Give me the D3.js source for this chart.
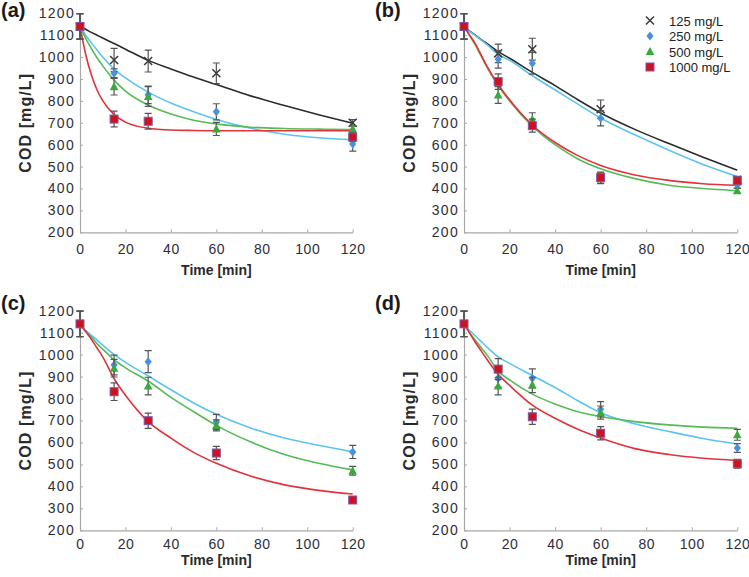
<!DOCTYPE html>
<html><head><meta charset="utf-8">
<script src="https://cdn.jsdelivr.net/npm/d3@7"></script>
<style>
body{margin:0;background:#fff}
text{font-family:Arial,"Liberation Sans",sans-serif}
</style>
</head><body>
<svg id="chart" width="749" height="577"></svg>
<script>
// ---------------- DATA ----------------
const seriesNames = ["125 mg/L", "250 mg/L", "500 mg/L", "1000 mg/L"];
const panelLabels = ["(a)", "(b)", "(c)", "(d)"];
const times = [0, 15, 30, 60, 120];
const xTicks = [0, 20, 40, 60, 80, 100, 120];
const yTicks = [200, 300, 400, 500, 600, 700, 800, 900, 1000, 1100, 1200];
const xTitle = "Time [min]";
const yTitle = "COD [mg/L]";

// measured points (null = not shown)
const a125 = [1140, 987, 982, 926, 700];   const a125Err = [58, 53, 50, 47, 15];
const a250 = [1140, 926, 828, 750, 603];   const a250Err = [58, 20, 40, 37, 32];
const a500 = [1140, 865, 820, 672, 672];   const a500Err = [58, 38, 45, 30, 15];
const a1000 = [1140, 717, 707, null, 635]; const a1000Err = [58, 36, 36, 0, 20];

const b125 = [1140, 1017, 1036, 762, 440]; const b125Err = [58, 42, 50, 42, 15];
const b250 = [1140, 990, 972, 721, 416];   const b250Err = [58, 40, 50, 35, 15];
const b500 = [1140, 827, 716, 447, 390];   const b500Err = [58, 38, 30, 25, 12];
const b1000 = [1140, 888, 687, 450, 435];  const b1000Err = [58, 35, 30, 25, 15];

const c250 = [1140, 953, 968, 693, 557];   const c250Err = [58, 45, 50, 35, 30];
const c500 = [1140, 938, 857, 678, 471];   const c500Err = [58, 40, 40, 25, 20];
const c1000 = [1140, 831, 699, 552, 338];  const c1000Err = [58, 40, 35, 30, 15];

const d250 = [1140, 892, 892, 751, 575];   const d250Err = [58, 40, 43, 35, 20];
const d500 = [1140, 857, 862, 736, 635];   const d500Err = [58, 40, 35, 30, 25];
const d1000 = [1140, 934, 717, 642, 503];  const d1000Err = [58, 48, 35, 30, 20];

// fitted curves at these times
const fitT = [0, 2.5, 5, 7.5, 10, 15, 20, 30, 40, 50, 60, 75, 90, 105, 120];
const a125Fit = [1140, 1127, 1113, 1100, 1087, 1062, 1036, 985, 946, 909, 875, 823, 779, 737, 698];
const a250Fit = [1140, 1100, 1065, 1032, 1000, 945, 905, 840, 790, 750, 715, 675, 648, 632, 623];
const a500Fit = [1140, 1085, 1039, 997, 960, 895, 845, 781, 740, 712, 695, 680, 674, 671, 669];
const a1000Fit = [1140, 1012, 919, 850, 801, 737, 703, 675, 667, 665, 664, 664, 664, 664, 664];

const b125Fit = [1138, 1118, 1100, 1080, 1062, 1025, 995, 930, 870, 805, 745, 670, 605, 543, 484];
const b250Fit = [1135, 1117, 1098, 1078, 1058, 1012, 985, 915, 850, 785, 722, 645, 575, 510, 455];
const b500Fit = [1140, 1098, 1055, 1005, 955, 870, 800, 685, 600, 535, 490, 445, 415, 400, 390];
const b1000Fit = [1140, 1100, 1060, 1010, 960, 875, 805, 690, 610, 550, 505, 462, 437, 422, 415];

const c250Fit = [1135, 1110, 1088, 1066, 1043, 1000, 965, 903, 840, 780, 728, 666, 620, 587, 557];
const c500Fit = [1135, 1105, 1080, 1050, 1025, 976, 940, 880, 805, 740, 678, 603, 545, 505, 475];
const c1000Fit = [1140, 1105, 1070, 1030, 990, 890, 815, 695, 620, 555, 505, 447, 407, 382, 365];

const d250Fit = [1135, 1110, 1085, 1060, 1035, 990, 960, 905, 850, 790, 735, 685, 650, 618, 593];
const d500Fit = [1140, 1100, 1065, 1032, 1000, 925, 885, 820, 775, 740, 718, 695, 680, 670, 665];
const d1000Fit = [1140, 1097, 1055, 1017, 980, 910, 860, 770, 710, 660, 620, 572, 545, 528, 518];

// ---------------- STYLE / LAYOUT ----------------
const styles = [
  {marker: "x", fill: "none", stroke: "#3a3a3a", line: "#2b2b2b"},
  {marker: "diamond", fill: "#4a8fe0", stroke: "#4a8fe0", line: "#5cc4ef"},
  {marker: "triangle", fill: "#3aa83a", stroke: "#3aa83a", line: "#55bb55"},
  {marker: "square", fill: "#d0121e", stroke: "#7a5aa8", line: "#e2323a"}
];

const panels = [
  {label: panelLabels[0], ox: 0, oy: 0, x0: 80, x1: 352.7, yTop: 13.3, yBot: 232.3, legend: false,
   series: [[0, a125, a125Err, a125Fit], [1, a250, a250Err, a250Fit], [2, a500, a500Err, a500Fit], [3, a1000, a1000Err, a1000Fit]]},
  {label: panelLabels[1], ox: 374, oy: 0, x0: 464, x1: 737.3, yTop: 13.3, yBot: 232.3, legend: true,
   series: [[0, b125, b125Err, b125Fit], [1, b250, b250Err, b250Fit], [2, b500, b500Err, b500Fit], [3, b1000, b1000Err, b1000Fit]]},
  {label: panelLabels[2], ox: 0, oy: 288, x0: 80, x1: 352.7, yTop: 310.7, yBot: 530.3, legend: false,
   series: [[1, c250, c250Err, c250Fit], [2, c500, c500Err, c500Fit], [3, c1000, c1000Err, c1000Fit]]},
  {label: panelLabels[3], ox: 374, oy: 288, x0: 464, x1: 737.3, yTop: 310.7, yBot: 530.3, legend: false,
   series: [[1, d250, d250Err, d250Fit], [2, d500, d500Err, d500Fit], [3, d1000, d1000Err, d1000Fit]]}
];

const svg = d3.select("#chart");

function drawMarker(g, type, cx, cy, st) {
  if (type === "x") {
    const s = 4;
    g.append("path").attr("d", `M${cx - s},${cy - s}L${cx + s},${cy + s}M${cx - s},${cy + s}L${cx + s},${cy - s}`)
      .attr("stroke", st.stroke).attr("stroke-width", 1.5).attr("fill", "none");
  } else if (type === "diamond") {
    g.append("path").attr("d", `M${cx},${cy - 4.5}L${cx + 3.6},${cy}L${cx},${cy + 4.5}L${cx - 3.6},${cy}Z`)
      .attr("fill", st.fill);
  } else if (type === "triangle") {
    g.append("path").attr("d", `M${cx},${cy - 4.6}L${cx + 4.3},${cy + 3.6}L${cx - 4.3},${cy + 3.6}Z`)
      .attr("fill", st.fill);
  } else {
    g.append("rect").attr("x", cx - 4).attr("y", cy - 4).attr("width", 8).attr("height", 8)
      .attr("fill", st.fill).attr("stroke", st.stroke).attr("stroke-width", 1);
  }
}

panels.forEach((p, pi) => {
  const x = d3.scaleLinear().domain([0, 120]).range([p.x0, p.x1]);
  const y = d3.scaleLinear().domain([200, 1200]).range([p.yBot, p.yTop]);
  const g = svg.append("g");
  const bottom = pi >= 2;

  // axes
  const xa = g.append("g").attr("transform", `translate(0,${p.yBot})`)
    .call(d3.axisBottom(x).tickValues(xTicks).tickFormat(d3.format("d"))
      .tickSizeInner(-3).tickSizeOuter(0).tickPadding(bottom ? 9 : 12));
  const ya = g.append("g").attr("transform", `translate(${p.x0},0)`)
    .call(d3.axisLeft(y).tickValues(yTicks).tickFormat(d3.format("d"))
      .tickSizeInner(-3).tickSizeOuter(0).tickPadding(5));
  [xa, ya].forEach((a, ai) => {
    a.select(".domain").attr("stroke", "#a8a8a8").attr("stroke-width", 1.2);
    a.selectAll(".tick line").attr("stroke", "#a8a8a8");
    a.selectAll(".tick text").attr("fill", "#2e2e3a").style("font-size", "14px")
      .style("letter-spacing", ai === 0 ? "0.5px" : "1.3px")
      .style("font-family", "Arial, 'Liberation Sans', sans-serif");
  });

  // titles
  g.append("text").attr("x", (p.x0 + p.x1) / 2).attr("y", p.yBot + (bottom ? 35 : 43))
    .attr("text-anchor", "middle").attr("font-weight", "bold").attr("font-size", 14)
    .attr("fill", "#2a2a2a").text(xTitle);
  const ylx = p.x0 - 49, yly = (p.yTop + p.yBot) / 2;
  g.append("text").attr("transform", `translate(${ylx},${yly}) rotate(-90)`)
    .attr("text-anchor", "middle").attr("font-weight", "bold").attr("font-size", 16)
    .style("letter-spacing", "1.1px").attr("fill", "#2a2a2a").text(yTitle);
  g.append("text").attr("x", p.ox + 1).attr("y", p.oy + (bottom ? 22 : 17))
    .attr("font-weight", "bold").attr("font-size", 20).attr("fill", "#1a1a1a").text(p.label);

  // fitted curves
  const line = d3.line().x(d => x(d[0])).y(d => y(d[1])).curve(d3.curveMonotoneX);
  p.series.forEach(([si, vals, errs, fit]) => {
    g.append("path").datum(fitT.map((t, i) => [t, fit[i]]))
      .attr("d", line).attr("fill", "none").attr("stroke", styles[si].line).attr("stroke-width", 1.6);
  });

  // error bars + markers
  p.series.forEach(([si, vals, errs]) => {
    const st = styles[si];
    times.forEach((t, i) => {
      if (vals[i] == null) return;
      const cx = x(t), e = errs[i];
      if (e > 0) {
        const y1 = y(vals[i] + e), y2 = y(vals[i] - e);
        g.append("path").attr("d", `M${cx},${y1}L${cx},${y2}M${cx - 3.5},${y1}L${cx + 3.5},${y1}M${cx - 3.5},${y2}L${cx + 3.5},${y2}`)
          .attr("stroke", "#555").attr("stroke-width", 1.2).attr("fill", "none");
      }
    });
    times.forEach((t, i) => {
      if (vals[i] == null) return;
      drawMarker(g, st.marker, x(t), y(vals[i]), st);
    });
  });

  // legend
  if (p.legend) {
    const lg = g.append("g");
    seriesNames.forEach((n, i) => {
      const cy = 20.5 + i * 15.5;
      drawMarker(lg, styles[i].marker, 650, cy, styles[i]);
      lg.append("text").attr("x", 669).attr("y", cy + 5).attr("font-size", 13)
        .attr("fill", "#222").text(n);
    });
  }
});
</script>
</body></html>
